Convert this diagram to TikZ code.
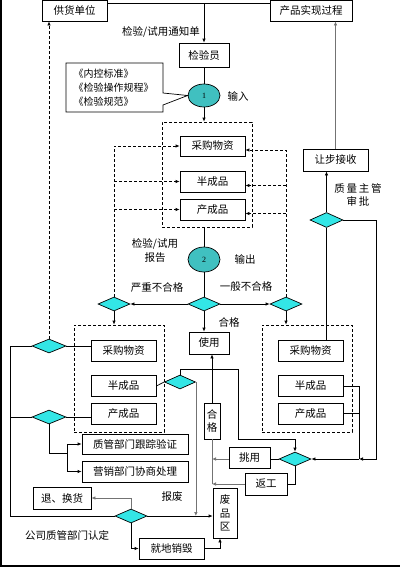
\documentclass[tikz,border=0pt]{standalone}
\usepackage{fontspec}
\setmainfont{Noto Sans CJK SC}
\newfontfamily\numfont{Liberation Serif}
\usetikzlibrary{arrows.meta, shapes.geometric}
\definecolor{ellfill}{RGB}{64,192,192}
\definecolor{diafill}{RGB}{51,230,230}

\begin{document}
\begin{tikzpicture}[x=1pt, y=-1pt, line width=0.7pt,
  font=\fontsize{10.5}{13.5}\selectfont,
  box/.style={draw, minimum width=65pt, minimum height=21pt, inner sep=0pt},
  dashbox/.style={draw, dashed, dash pattern=on 3pt off 2pt, minimum width=90pt, inner sep=0pt},
  ell/.style={draw, ellipse, fill=ellfill, minimum width=32pt, inner sep=0pt, font=\numfont\fontsize{8}{9}\selectfont},
  dia/.style={draw, diamond, fill=diafill, minimum width=32pt, minimum height=14pt, inner sep=0pt},
  dsh/.style={dash pattern=on 3pt off 2pt},
  arr/.style={-{Latex[length=4pt,width=3.5pt]}},
  grey/.style={draw=black!55}]
  \useasboundingbox (0,0) rectangle (400,570);

  % frame
  \draw[line width=1.5pt] (1,0) -- (1,566) -- (400,566);

  % top
  \node[box] (supplier) at (74.5,10.5) {供货单位};
  \node[box, minimum width=82pt] (realize) at (311,10.5) {产品实现过程};
  \node[box, minimum width=50pt, minimum height=24pt] (inspector) at (204,55) {检验员};
  \coordinate (top) at (204,3);
  \draw (supplier.east |- top) -- (realize.west |- top);
  \draw[arr] (top) -- (inspector.north);
  \node at (161,32) {检验/试用通知单};

  \node[ell, minimum height=23pt] (ell1) at (204,95.5) {1};
  \draw (inspector.south) -- (ell1.north);
  \node at (238,96) {输入};
  \draw (66,63) -- (163,63) -- (163,93) -- (ell1.west) -- (163,105) -- (163,112) -- (66,112) -- cycle;
  \node[anchor=west, align=left, font=\fontsize{10}{14}\selectfont] at (70,88) {《内控标准》\\《检验操作规程》\\《检验规范》};

  % inspection objects
  \node[dashbox, minimum height=105pt] (midbox) at (207,174.5) {};
  \node[box, minimum height=20pt] (buyM) at (212.5,146) {采购物资};
  \node[box] (semiM) at (212.5,181.5) {半成品};
  \node[box] (prodM) at (212.5,209.5) {产成品};
  \draw[arr] (ell1.south) -- (ell1.south |- midbox.north);

  \node[ell, minimum height=25pt] (ell2) at (204,259.5) {2};
  \draw (midbox.south -| ell2) -- (ell2.north);
  \node at (155,244) {检验/试用};
  \node at (155,258) {报告};
  \node at (245,259) {输出};

  \node[dia] (dC) at (204,304) {};
  \node[dia] (dL) at (114,304) {};
  \node[dia] (dR) at (286,304) {};
  \draw (ell2.south) -- (dC.north);
  \draw[arr] (dC.west) -- (dL.east);
  \draw[arr] (dC.east) -- (dR.west);
  \node at (157,287) {严重不合格};
  \node at (246,287) {一般不合格};
  \node at (229,322) {合格};

  % feedback dashed
  \draw[dsh, arr] (dL.north) |- (buyM.west);
  \draw[dsh, arr] (dL.north |- semiM) -- (semiM.west);
  \draw[dsh, arr] (dL.north |- prodM) -- (prodM.west);
  \draw[dsh, arr] (dR.north) |- ([yshift=-4pt]buyM.east);
  \draw[dsh, arr] ([yshift=-4pt]dR.north |- semiM) -- ([yshift=-4pt]semiM.east);
  \draw[dsh, arr] ([yshift=-4pt]dR.north |- prodM) -- ([yshift=-4pt]prodM.east);

  \node[box, minimum width=40pt, minimum height=22pt] (use) at (209,343) {使用};
  \draw[arr] (dC.south) -- (dC.south |- use.north);

  % serious nonconforming
  \node[dashbox, minimum height=107pt] (leftbox) at (119,378.5) {};
  \node[box] (buyL) at (123.5,350.5) {采购物资};
  \node[box] (semiL) at (123.5,386) {半成品};
  \node[box] (prodL) at (123.5,413.5) {产成品};
  \draw[arr] (dL.south) -- (dL.south |- leftbox.north);

  \node[dia, minimum width=34pt] (dA) at (49,346) {};
  \node[dia, minimum width=34pt] (dB) at (49,417) {};
  \draw[dsh, arr] (dA.north) -- (dA.north |- supplier.south);
  \draw (dA.east) -- (dA.east -| buyL.west);
  \draw (dB.east) -- (dB.east -| prodL.west);

  \node[box, minimum width=106pt, minimum height=20pt] (qc) at (135,444) {质管部门跟踪验证};
  \node[box, minimum width=106pt] (mkt) at (135,471.5) {营销部门协商处理};
  \coordinate (fork) at (67,453);
  \draw (dB.south) |- (fork);
  \draw (fork |- qc) -- (fork |- mkt);
  \draw[arr] (fork |- qc) -- (qc.west);
  \draw[arr] (fork |- mkt) -- (mkt.west);

  \node[dia] (dBot) at (131,516) {};
  \coordinate (rail) at (10,0);
  \draw (dA.west) -- (dA.west -| rail) -- (rail |- dBot) -- (dBot.west);
  \draw (dB.west) -- (dB.west -| rail);

  \node[box, minimum width=58pt, minimum height=22pt] (ret) at (62,498) {退、换货};
  \node[box, minimum width=24pt, minimum height=50pt, align=center] (scrap) at (225,513) {废\\品\\区};
  \node[box] (destroy) at (171.5,548.5) {就地销毁};
  \draw[grey, arr] (dBot.north) |- (ret.east);
  \draw[arr] (dBot.east) -- (dBot.east -| scrap.west);
  \draw[arr] (dBot.south) |- (destroy.west);
  \draw[arr] (destroy.east) -| ([xshift=-5pt]scrap.south);
  \node at (172,497) {报废};
  \node at (67,535) {公司质管部门认定};

  % semi-finished route
  \node[dia, minimum width=31pt] (dSemi) at (180,382) {};
  \draw (semiL.east) -- (dSemi.west);
  \draw[grey, arr] (dSemi.east) -- (dSemi.east |- dBot);

  % general nonconforming
  \node[dashbox, minimum height=107pt] (rightbox) at (307,378.5) {};
  \node[box] (buyR) at (310.5,350.5) {采购物资};
  \node[box] (semiR) at (310.5,386) {半成品};
  \node[box] (prodR) at (310.5,413.5) {产成品};
  \draw[arr] (dR.south) -- (dR.south |- rightbox.north);

  \node[box, minimum width=16pt, minimum height=36pt, align=center] (okbox) at (212,421) {合\\格};
  \node[box, minimum width=41pt] (pick) at (249.5,458) {挑用};
  \node[dia] (dPick) at (295,459) {};
  \node[box, minimum width=42pt, minimum height=22pt] (rework) at (266,484) {返工};
  \draw[arr] (okbox.north) -- (okbox.north |- use.south);
  \draw[grey] (okbox.south) -- (okbox.south |- rework);
  \coordinate (bendA) at (238,369);
  \coordinate (bendB) at (238,439);
  \draw[arr] (dSemi.north) |- (bendA) -- (bendB) -| (dPick.north);
  \draw (dPick.west) -- (dPick.west -| pick.east);
  \draw[grey, arr] (pick.west |- dPick) -- (okbox |- dPick);
  \draw (dPick.south) |- (rework.east);
  \draw[grey, arr] (rework.west) -- (rework.west -| okbox);

  % concession
  \node[box, minimum height=22pt] (yield) at (335.5,160) {让步接收};
  \node[dia, minimum width=33pt, minimum height=15pt] (dYield) at (326.5,220) {};
  \draw[arr] (dYield.north) -- (dYield.north |- yield.south);
  \draw[grey, arr] (yield.north) -- (yield.north |- realize.south);
  \draw (dYield.south) -- (dYield.south |- buyR.north);
  \node at (358,188) {质\,量\,主\,管};
  \node at (358,201) {审\,批};
  \coordinate (rrail) at (376,0);
  \coordinate (bracket) at (359,0);
  \draw[arr] (dYield.east) -- (dYield.east -| rrail) -- (rrail |- dPick) -- (bracket |- dPick);
  \draw[arr] (bracket |- dPick) -- (dPick.east);
  \draw (semiR.east) -| (bracket |- dPick);
  \draw (prodR.east) -- (prodR.east -| bracket);
\end{tikzpicture}
\end{document}
